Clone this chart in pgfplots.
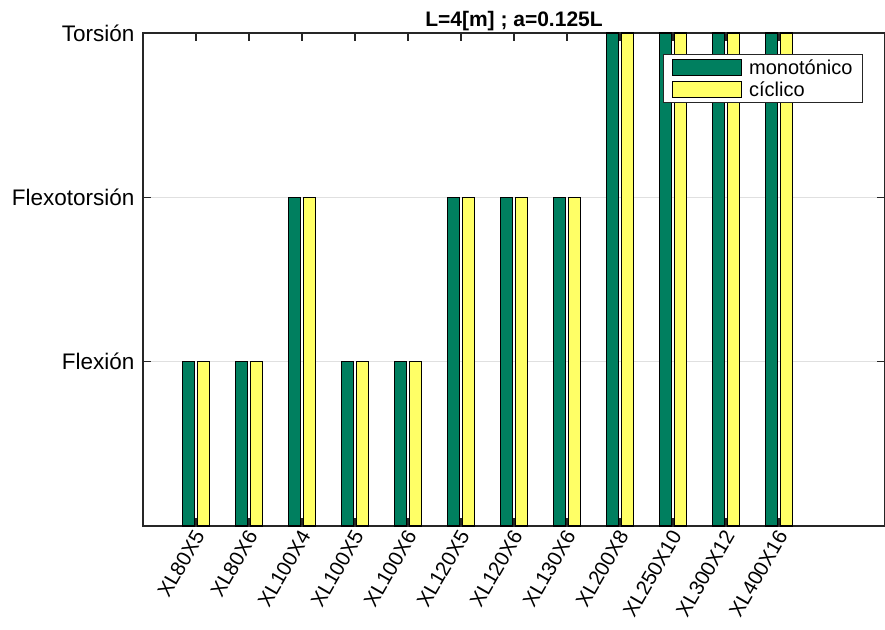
\documentclass[border=0pt]{standalone}
\usepackage{pgfplots}
\pgfplotsset{compat=1.18}
\usepackage{fontspec}
\setmainfont{Liberation Sans}
\definecolor{mgreen}{RGB}{0,127,95}
\definecolor{myellow}{RGB}{255,255,102}
\definecolor{axgray}{RGB}{38,38,38}
\begin{document}
\begin{tikzpicture}[x=1pt,y=1pt]
\path[use as bounding box] (-143,-103) rectangle (742,526);
\begin{axis}[at={(0,0)}, anchor=south west, scale only axis,
  width=742pt, height=493pt,
  xmin=0, xmax=14, ymin=0, ymax=3,
  ybar=2.5pt, bar width=12.5pt,
  xtick={1,...,12},
  xticklabels={XL80X5,XL80X6,XL100X4,XL100X5,XL100X6,XL120X5,XL120X6,XL130X6,XL200X8,XL250X10,XL300X12,XL400X16},
  xticklabel style={xshift=5pt, yshift=-3pt, rotate=60, anchor=east, font=\fontsize{20.5}{24}\selectfont},
  ytick={1,2,3}, yticklabels={Flexión,Flexotorsión,Torsión},
  yticklabel style={font=\fontsize{22.5}{26}\selectfont, xshift=-5pt},
  tick align=inside, major tick length=8pt,
  ymajorgrids, grid style={draw=black!12, line width=1pt},
  axis line style={draw=axgray, line width=1.3pt},
  tick style={draw=axgray, line width=1.3pt},
  title={\textbf{L=4[m] ; a=0.125L}},
  title style={font=\fontsize{21}{25}\selectfont, yshift=-7pt},
  every axis plot post/.append style={legend image code/.code={\draw[##1,line width=1.3pt] (0pt,-8pt) rectangle (69pt,8pt);}},
  legend cell align=left,
  legend style={at={(1,1)}, anchor=north east, xshift=-22pt, yshift=-21pt,
    draw=axgray, line width=1pt, font=\fontsize{20}{22}\selectfont,
    inner xsep=8pt, inner ysep=3pt, row sep=2pt,
    /tikz/every odd column/.append style={column sep=5pt}},
]
\addplot[fill=mgreen, draw=black, line width=1.3pt] coordinates {
(1,1) (2,1) (3,2) (4,1) (5,1) (6,2) (7,2) (8,2) (9,3) (10,3) (11,3) (12,3)};
\addplot[fill=myellow, draw=black, line width=1.3pt] coordinates {
(1,1) (2,1) (3,2) (4,1) (5,1) (6,2) (7,2) (8,2) (9,3) (10,3) (11,3) (12,3)};
\legend{monotónico, cíclico}
\end{axis}
\end{tikzpicture}
\end{document}
